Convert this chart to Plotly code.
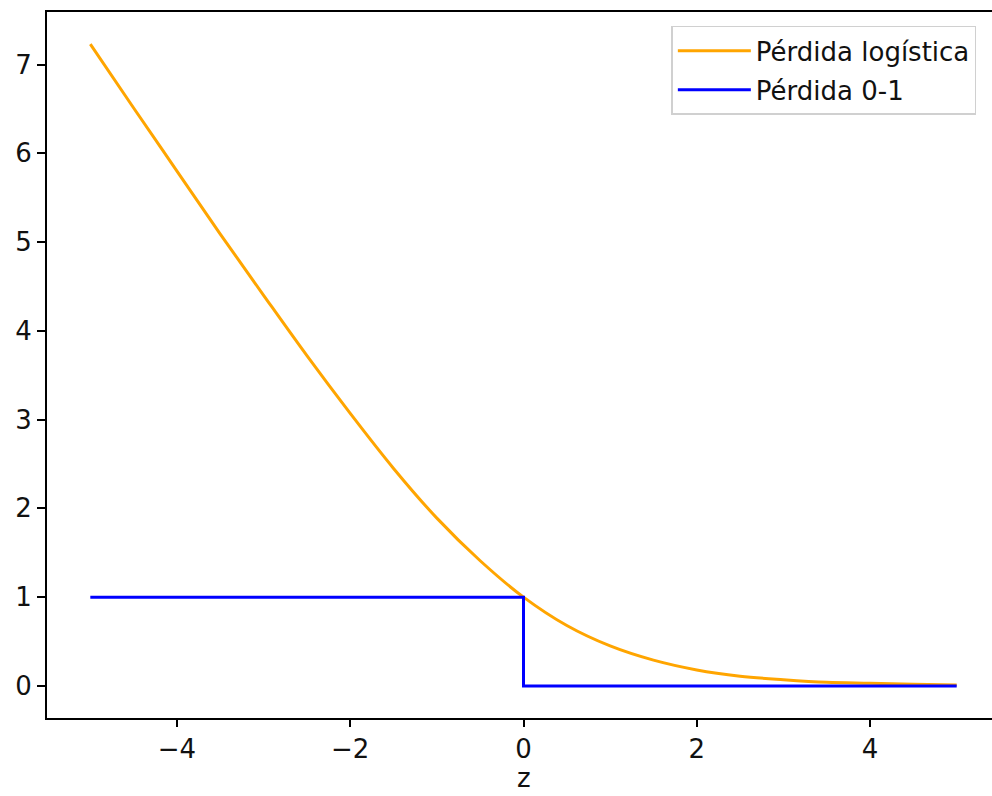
import plotly.graph_objects as go

# Logistic loss
z_log = [-5.0, -4.5, -4.0, -3.5, -3.0, -2.5, -2.0, -1.5, -1.0, -0.5, 0.0,
         0.5, 1.0, 1.5, 2.0, 2.5, 3.0, 3.5, 4.0, 4.5, 5.0]
loss_log = [7.23, 6.51, 5.80, 5.09, 4.40, 3.72, 3.07, 2.45, 1.89, 1.41, 1.00,
            0.68, 0.45, 0.29, 0.18, 0.11, 0.07, 0.04, 0.03, 0.02, 0.01]

# 0-1 loss
z_01 = [-5.0, 0.0, 0.0, 5.0]
loss_01 = [1, 1, 0, 0]

x_ticks = [-4, -2, 0, 2, 4]
y_ticks = [0, 1, 2, 3, 4, 5, 6, 7]
x_title = "z"

font = "DejaVu Sans"

fig = go.Figure()
fig.add_trace(go.Scatter(x=z_log, y=loss_log, mode="lines", name="Pérdida logística",
                         legendgroup="a",
                         line=dict(color="#FFA500", width=3, shape="spline")))
fig.add_trace(go.Scatter(x=z_01, y=loss_01, mode="lines", name="Pérdida 0-1",
                         legendgroup="b",
                         line=dict(color="#0000FF", width=3)))

fig.update_layout(
    width=1012, height=796,
    margin=dict(l=47, r=11, t=10, b=78),
    paper_bgcolor="white", plot_bgcolor="white",
    font=dict(family=font, size=26, color="#111"),
    xaxis=dict(range=[-5.5, 5.5], tickvals=x_ticks, showgrid=False, zeroline=False,
               showline=True, linecolor="black", linewidth=2, mirror=True,
               ticks="outside", ticklen=7, tickwidth=2, tickcolor="black"),
    yaxis=dict(range=[-0.3615, 7.5915], tickvals=y_ticks, showgrid=False, zeroline=False,
               showline=True, linecolor="black", linewidth=2, mirror=True,
               ticks="outside", ticklen=8, tickwidth=2, tickcolor="black"),
    legend=dict(x=(672 - 47) / 954, y=1 - (24 - 10) / 708, xanchor="left", yanchor="top",
                bgcolor="white", bordercolor="#d0d0d0", borderwidth=1.5,
                traceorder="grouped", tracegroupgap=2, itemwidth=73,
                font=dict(size=26)),
    showlegend=True,
    annotations=[dict(text=x_title, x=0, xref="x", y=-77 / 708, yref="paper",
                      xanchor="center", yanchor="bottom", showarrow=False,
                      font=dict(size=26, color="#111"))],
)

fig.write_html("out.html", config={"displayModeBar": False},
               post_script="document.body.style.margin='0px';document.body.style.overflow='hidden';")
